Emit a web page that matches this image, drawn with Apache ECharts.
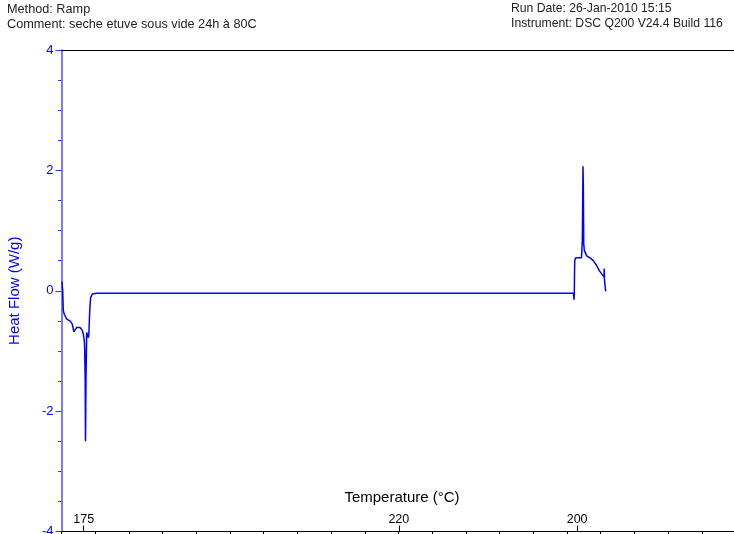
<!DOCTYPE html>
<html>
<head>
<meta charset="utf-8">
<script src="https://cdn.jsdelivr.net/npm/echarts@6/dist/echarts.min.js"></script>
<style>
  html, body { margin: 0; padding: 0; background: #fff; }
  #chart { width: 734px; height: 534px; }
</style>
</head>
<body>
<div id="chart"></div>
<script>
// Run information printed above the plot
const headerLeft = ['Method: Ramp', 'Comment: seche etuve sous vide 24h à 80C'];
const headerRight = ['Run Date: 26-Jan-2010 15:15', 'Instrument: DSC Q200 V24.4 Build 116'];

// Abscissa (run position, one unit per tick) and heat flow in W/g
const runPos = [
  0.015, 0.024, 0.036, 0.045, 0.053, 0.083, 0.154, 0.252, 0.320, 0.350,
  0.371, 0.400, 0.451, 0.549, 0.608, 0.647, 0.677, 0.688, 0.703, 0.712,
  0.718, 0.721, 0.727, 0.748, 0.777, 0.801, 0.816, 0.831, 0.846, 0.866,
  0.914, 1.045,
  15.190, 15.208, 15.217, 15.222, 15.230, 15.250, 15.330, 15.430, 15.455,
  15.466, 15.475, 15.484, 15.490, 15.496, 15.514, 15.585, 15.683, 15.780,
  15.880, 15.960, 16.030, 16.100, 16.105, 16.110, 16.130, 16.150
];
const heatFlow = [
  0.155, 0.07, 0.0, -0.17, -0.33, -0.39, -0.47, -0.50, -0.555, -0.64,
  -0.68, -0.65, -0.61, -0.61, -0.65, -0.72, -0.83, -0.945, -1.50, -2.50,
  -2.10, -1.83, -1.42, -0.695, -0.695, -0.78, -0.67, -0.42, -0.25, -0.11,
  -0.055, -0.04,
  -0.04, -0.15, -0.05, 0.25, 0.50, 0.545, 0.55, 0.55, 0.83,
  1.50, 2.07, 1.78, 1.28, 0.78, 0.67, 0.58, 0.545, 0.50,
  0.42, 0.33, 0.28, 0.23, 0.37, 0.20, 0.08, -0.01
];

// Temperature marks along the bottom axis
const tempLabels = ['175', '220', '200'];
const tempLabelAt = [0.659, 10.01, 15.30];

// Y axis ticks
const yMin = -4, yMax = 4, yStep = 2;

const series = runPos.map((x, i) => [x, heatFlow[i]]);

const chart = echarts.init(document.getElementById('chart'), null, { renderer: 'canvas' });

const FONT = 'Liberation Sans, Arial, sans-serif';
const hdr = (text, size) => ({ text, fontFamily: FONT, fontSize: size, fill: '#222' });

chart.setOption({
  animation: false,
  backgroundColor: '#fff',
  grid: { left: 61.5, top: 50, width: 674, bottom: 2.5, containLabel: false, outerBoundsMode: 'none' },
  xAxis: [
    {
      type: 'value', min: 0, max: 20, interval: 1, position: 'bottom',
      axisLine: { show: true, onZero: false, lineStyle: { color: '#000', width: 1 } },
      axisTick: { show: true, inside: false, length: 6, lineStyle: { color: '#000' } },
      axisLabel: { show: false },
      splitLine: { show: false }
    },
    {
      type: 'value', min: 0, max: 20, position: 'bottom',
      axisLine: { show: false, onZero: false },
      axisTick: { show: true, inside: true, length: 6, customValues: tempLabelAt, lineStyle: { color: '#000' } },
      axisLabel: {
        show: true, inside: true, margin: 5, customValues: tempLabelAt,
        color: '#000', fontSize: 12.5, fontFamily: FONT,
        formatter: (v) => {
          const i = tempLabelAt.findIndex(p => Math.abs(p - v) < 1e-6);
          return i >= 0 ? tempLabels[i] : '';
        }
      },
      splitLine: { show: false },
      name: 'Temperature (°C)', nameLocation: 'middle', nameGap: -34,
      nameTextStyle: { color: '#000', fontSize: 15, fontFamily: FONT, verticalAlign: 'middle', padding: [0, 0, 0, 7] }
    },
    {
      type: 'value', min: 0, max: 20, position: 'top',
      axisLine: { show: true, onZero: false, lineStyle: { color: '#000', width: 1 } },
      axisTick: { show: false }, axisLabel: { show: false }, splitLine: { show: false }
    }
  ],
  yAxis: {
    type: 'value', min: yMin, max: yMax, interval: yStep,
    axisLine: { show: true, onZero: false, lineStyle: { color: '#4d4dff', width: 1.5 } },
    axisTick: { show: true, length: 6, lineStyle: { color: '#3333ff' } },
    minorTick: { show: true, splitNumber: 4, length: 3.5, lineStyle: { color: '#3333ff' } },
    axisLabel: { color: '#0000ff', fontSize: 13, margin: 8, fontFamily: FONT },
    splitLine: { show: false },
    name: 'Heat Flow (W/g)', nameLocation: 'middle', nameGap: 46.5,
    nameTextStyle: { color: '#0000ff', fontSize: 15, fontFamily: FONT, verticalAlign: 'middle' }
  },
  series: [{
    type: 'line', xAxisIndex: 0, data: series, showSymbol: false,
    lineStyle: { color: '#0000ff', width: 1.5 }, itemStyle: { color: '#0000ff' }
  }],
  graphic: [
    { type: 'text', left: 7, top: 3, style: hdr(headerLeft[0], 12.7) },
    { type: 'text', left: 7, top: 18, style: hdr(headerLeft[1], 12.7) },
    { type: 'text', left: 511, top: 3, style: hdr(headerRight[0], 12.2) },
    { type: 'text', left: 511, top: 18, style: hdr(headerRight[1], 12.2) }
  ]
});
</script>
</body>
</html>
